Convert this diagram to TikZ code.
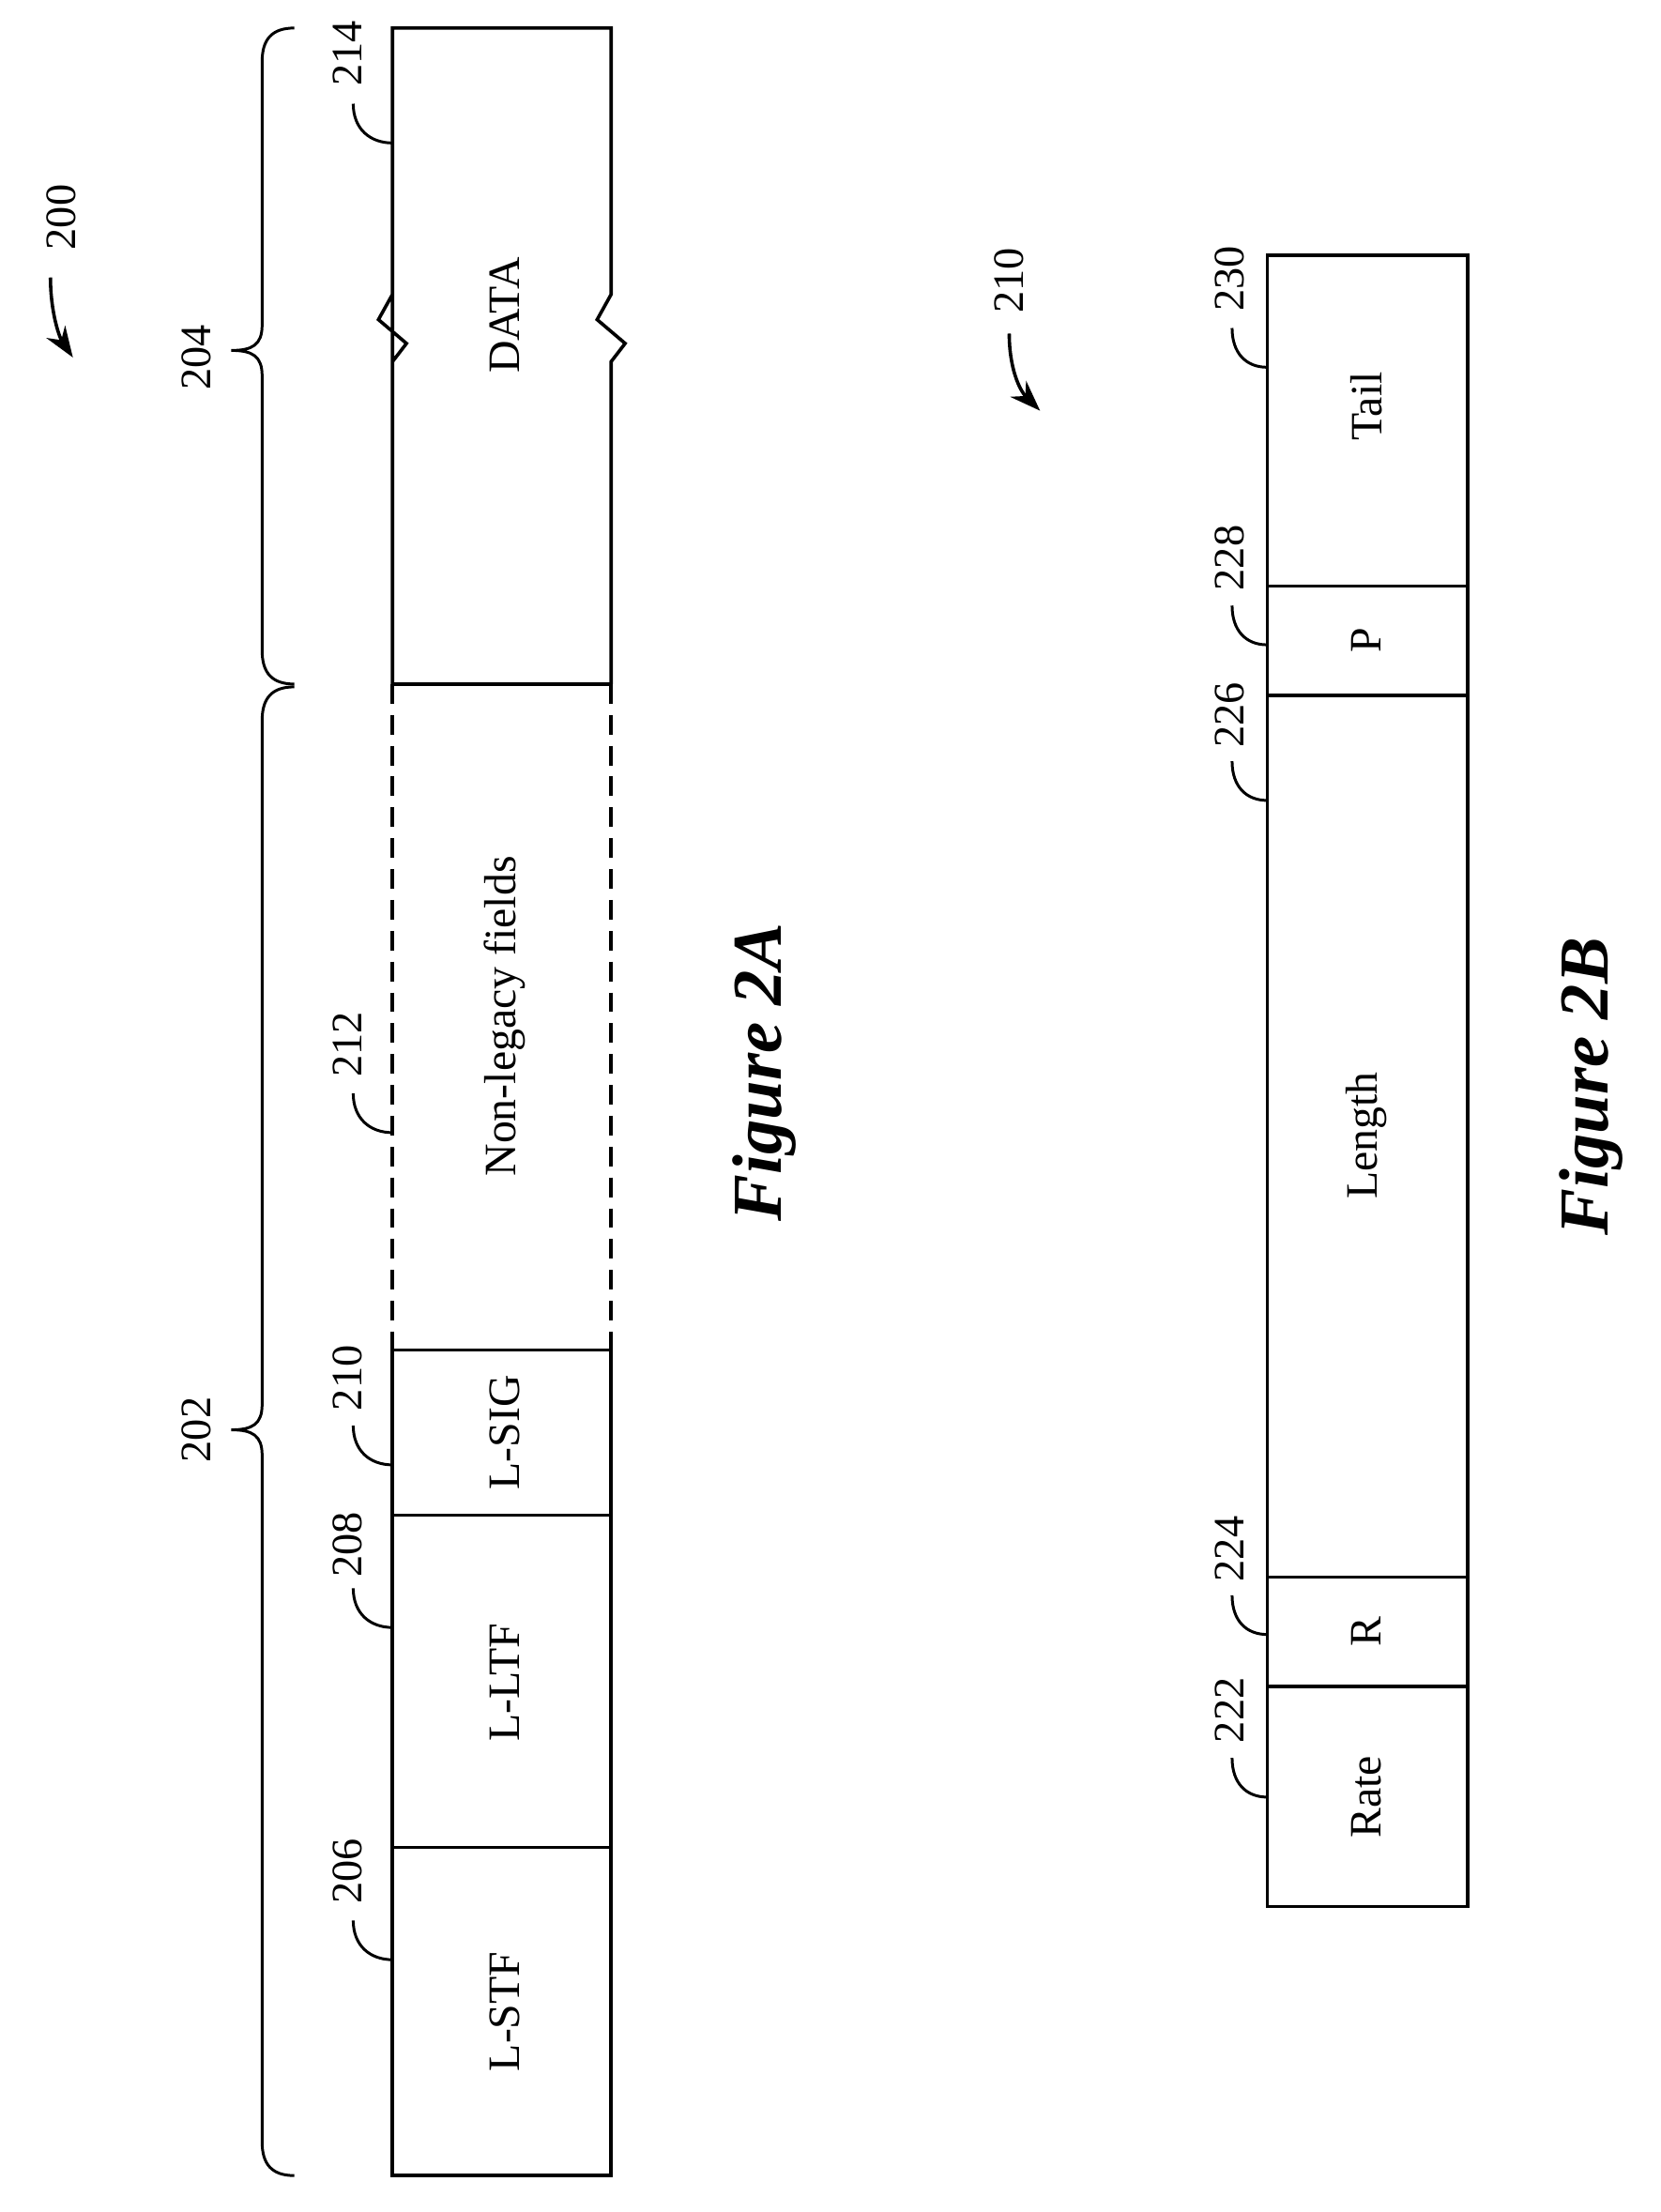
\documentclass[tikz,border=0pt]{standalone}
\usepackage{fontspec}
\setmainfont{Liberation Serif}
\usetikzlibrary{arrows.meta}
\begin{document}
\begin{tikzpicture}[x=1pt,y=-1pt,line width=2.4pt,
  lbl/.style={rotate=90,font=\fontsize{32}{36}\selectfont,inner sep=0},
  num/.style={rotate=90,font=\fontsize{31}{35}\selectfont,inner sep=0},
  fig/.style={rotate=90,font=\fontsize{50}{56}\selectfont\bfseries\itshape,inner sep=0},
  dsh/.style={dash pattern=on 14pt off 8pt},
  arr/.style={-{Stealth[length=22pt,width=16pt]}}]
\useasboundingbox (0,0) rectangle (1185,1578);
% ---------- Figure 2A ----------
\draw (280,488) -- (280,210) -- (270,228) -- (290,245) -- (280,258) -- (280,20) -- (436,20) -- (436,210) -- (426,228) -- (446,245) -- (436,258) -- (436,488);
\draw (280,488) -- (436,488);
\draw[dsh] (280,488) -- (280,963); \draw[dsh] (436,488) -- (436,963);
\draw (280,963) rectangle (436,1552);
\draw (280,1081) -- (436,1081);
\draw (280,1318) -- (436,1318);
\node[lbl] (data) at (360,225) {DATA};
\node[lbl] (nl) at (360,725) {Non-legacy fields};
\node[lbl] (lsig) at (360,1022) {L-SIG};
\node[lbl] (lltf) at (360,1200) {L-LTF};
\node[lbl] (lstf) at (360,1435) {L-STF};
\foreach \t/\c/\y in {214/38/74, 212/745/780, 210/983/1017, 208/1102/1133, 206/1335/1370}{
  \node[num] (n\t) at (248,\c) {\t};
  \draw[line width=2pt] (252,\y) .. controls (252,\y+18) and (264,\y+28) .. (280,\y+28);
}
\draw[line width=2pt] (210,20) .. controls (194,20) and (187,28) .. (187,44) -- (187,232) .. controls (187,246) and (180,250) .. (165,250)
  .. controls (180,250) and (187,254) .. (187,268) -- (187,464) .. controls (187,480) and (194,488) .. (210,488);
\draw[line width=2pt] (210,490) .. controls (194,490) and (187,498) .. (187,514) -- (187,1002) .. controls (187,1016) and (180,1020) .. (165,1020)
  .. controls (180,1020) and (187,1024) .. (187,1038) -- (187,1528) .. controls (187,1544) and (194,1552) .. (210,1552);
\node[num] (n204) at (140,255) {204};
\node[num] (n202) at (140,1020) {202};
\node[num] (n200) at (44,155) {200};
\coordinate (a200s) at (36,198); \coordinate (a200e) at (52,255);
\draw[arr] (a200s) .. controls (36,222) and (42,240) .. (a200e);
\node[fig] (f2a) at (545,765) {Figure 2A};
% ---------- Figure 2B ----------
\draw (904,182) rectangle (1047,1360);
\foreach \y in {418,496,1125,1203} \draw (904,\y) -- (1047,\y);
\node[lbl] (tail) at (975,290) {Tail};
\node[lbl] (p) at (975,457) {P};
\node[lbl] (len) at (975,810) {Length};
\node[lbl] (r) at (975,1164) {R};
\node[lbl] (rate) at (975,1282) {Rate};
\foreach \t/\c/\y in {230/199/234, 228/398/432, 226/510/543, 224/1105/1138, 222/1220/1254}{
  \node[num] (n\t) at (877,\c) {\t};
  \draw[line width=2pt] (879,\y) .. controls (879,\y+18) and (889,\y+28) .. (904,\y+28);
}
\node[num] (n210) at (720,200) {210};
\coordinate (a210s) at (720,238); \coordinate (a210e) at (742,293);
\draw[arr] (a210s) .. controls (720,262) and (727,278) .. (a210e);
\node[fig] (f2b) at (1135,775) {Figure 2B};
\end{tikzpicture}
\end{document}
